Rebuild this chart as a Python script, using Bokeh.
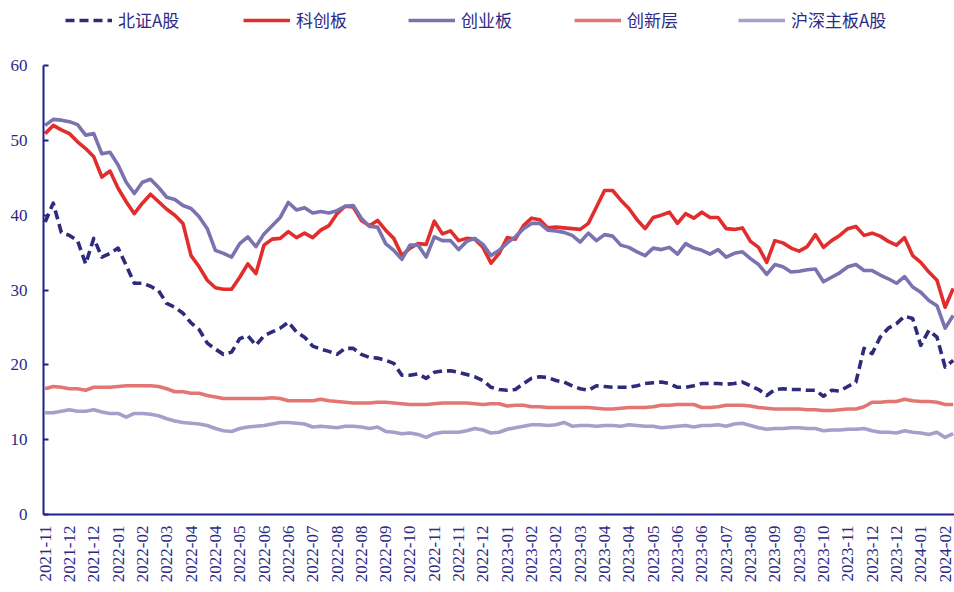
from bokeh.plotting import figure
from bokeh.models import ColumnDataSource, FixedTicker, Legend, LegendItem, Range1d
from bokeh.embed import file_html
from bokeh.resources import INLINE

# ---- data (weekly) ----
series_names = ["北证A股", "科创板", "创业板", "创新层", "沪深主板A股"]

bz = [39.1, 41.6, 37.7, 37.3, 36.6, 33.5, 36.9, 34.4, 34.9, 35.6, 33.3, 30.9, 30.9, 30.5, 29.9, 28.2, 27.7, 26.9, 25.6, 24.7,
      22.9, 22.1, 21.4, 21.7, 23.5, 23.9, 22.6, 23.9, 24.4, 24.9, 25.7, 24.4, 23.7, 22.5, 22.1, 21.8, 21.4, 22.2, 22.2, 21.4,
      21.0, 20.9, 20.6, 20.2, 18.6, 18.6, 18.8, 18.2, 19.0, 19.2, 19.2, 19.0, 18.7, 18.4, 17.9, 17.0, 16.7, 16.6, 16.7, 17.5,
      18.2, 18.4, 18.3, 17.9, 17.7, 17.2, 16.8, 16.6, 17.2, 17.1, 17.0, 17.0, 17.0, 17.2, 17.5, 17.6, 17.7, 17.5, 17.0, 17.0,
      17.2, 17.5, 17.5, 17.5, 17.4, 17.5, 17.7, 17.2, 16.7, 15.9, 16.7, 16.8, 16.7, 16.7, 16.6, 16.6, 15.8, 16.6, 16.5, 17.1,
      17.7, 22.2, 21.5, 23.7, 24.9, 25.5, 26.5, 26.2, 22.6, 24.6, 23.7, 19.7, 20.6]

kcb = [50.9, 52.0, 51.4, 50.9, 49.8, 48.9, 47.8, 45.1, 45.9, 43.6, 41.8, 40.2, 41.6, 42.8, 41.8, 40.8, 40.0, 38.9, 34.6, 33.1,
       31.3, 30.3, 30.1, 30.1, 31.7, 33.5, 32.2, 36.0, 36.8, 36.9, 37.8, 37.0, 37.6, 37.0, 38.0, 38.6, 40.2, 41.2, 41.1, 39.3,
       38.6, 39.3, 38.0, 36.9, 34.6, 35.6, 36.2, 36.1, 39.2, 37.5, 37.9, 36.6, 36.9, 36.8, 35.7, 33.6, 34.9, 37.0, 36.8, 38.6,
       39.6, 39.4, 38.3, 38.4, 38.3, 38.2, 38.1, 38.9, 41.1, 43.3, 43.3, 42.0, 40.9, 39.4, 38.2, 39.7, 40.0, 40.4, 38.9, 40.2,
       39.6, 40.4, 39.7, 39.7, 38.2, 38.1, 38.3, 36.5, 35.7, 33.7, 36.6, 36.3, 35.6, 35.2, 35.8, 37.4, 35.7, 36.6, 37.3, 38.2,
       38.5, 37.3, 37.6, 37.2, 36.5, 36.0, 37.0, 34.6, 33.7, 32.4, 31.3, 27.7, 30.2]

cyb = [52.0, 52.8, 52.7, 52.5, 52.1, 50.7, 50.9, 48.2, 48.4, 46.7, 44.4, 42.9, 44.4, 44.8, 43.7, 42.4, 42.1, 41.3, 40.9, 39.8,
       38.2, 35.3, 34.9, 34.4, 36.2, 37.1, 35.8, 37.5, 38.6, 39.7, 41.7, 40.7, 41.0, 40.3, 40.5, 40.3, 40.6, 41.2, 41.3, 39.6,
       38.5, 38.4, 36.2, 35.3, 34.1, 36.0, 36.0, 34.4, 37.1, 36.6, 36.6, 35.4, 36.5, 36.9, 36.1, 34.6, 35.3, 36.3, 37.1, 38.2,
       38.9, 38.9, 38.0, 37.9, 37.7, 37.3, 36.4, 37.6, 36.6, 37.4, 37.2, 36.0, 35.7, 35.1, 34.6, 35.6, 35.4, 35.7, 34.8, 36.2,
       35.6, 35.3, 34.8, 35.4, 34.4, 34.9, 35.1, 34.2, 33.4, 32.1, 33.4, 33.1, 32.4, 32.5, 32.7, 32.8, 31.1, 31.7, 32.3, 33.1,
       33.4, 32.6, 32.6, 32.0, 31.5, 30.9, 31.8, 30.4, 29.7, 28.6, 27.9, 24.9, 26.6]

cxc = [16.8, 17.1, 17.0, 16.8, 16.8, 16.6, 17.0, 17.0, 17.0, 17.1, 17.2, 17.2, 17.2, 17.2, 17.1, 16.8, 16.4, 16.4, 16.2, 16.2,
       15.9, 15.7, 15.5, 15.5, 15.5, 15.5, 15.5, 15.5, 15.6, 15.5, 15.2, 15.2, 15.2, 15.2, 15.4, 15.2, 15.1, 15.0, 14.9, 14.9,
       14.9, 15.0, 15.0, 14.9, 14.8, 14.7, 14.7, 14.7, 14.8, 14.9, 14.9, 14.9, 14.9, 14.8, 14.7, 14.8, 14.8, 14.5, 14.6, 14.6,
       14.4, 14.4, 14.3, 14.3, 14.3, 14.3, 14.3, 14.3, 14.2, 14.1, 14.1, 14.2, 14.3, 14.3, 14.3, 14.4, 14.6, 14.6, 14.7, 14.7,
       14.7, 14.3, 14.3, 14.4, 14.6, 14.6, 14.6, 14.5, 14.3, 14.2, 14.1, 14.1, 14.1, 14.1, 14.0, 14.0, 13.9, 13.9, 14.0, 14.1,
       14.1, 14.4, 15.0, 15.0, 15.1, 15.1, 15.4, 15.2, 15.1, 15.1, 15.0, 14.7, 14.7]

hs = [13.6, 13.6, 13.8, 14.0, 13.8, 13.8, 14.0, 13.7, 13.5, 13.5, 13.0, 13.5, 13.5, 13.4, 13.2, 12.8, 12.5, 12.3, 12.2, 12.1,
      11.9, 11.5, 11.2, 11.1, 11.5, 11.7, 11.8, 11.9, 12.1, 12.3, 12.3, 12.2, 12.1, 11.7, 11.8, 11.7, 11.6, 11.8, 11.8, 11.7,
      11.5, 11.7, 11.1, 11.0, 10.8, 10.9, 10.7, 10.3, 10.8, 11.0, 11.0, 11.0, 11.2, 11.5, 11.3, 10.9, 11.0, 11.4, 11.6, 11.8,
      12.0, 12.0, 11.9, 12.0, 12.3, 11.8, 11.9, 11.9, 11.8, 11.9, 11.9, 11.8, 12.0, 11.9, 11.8, 11.8, 11.6, 11.7, 11.8, 11.9,
      11.7, 11.9, 11.9, 12.0, 11.8, 12.1, 12.2, 11.9, 11.6, 11.4, 11.5, 11.5, 11.6, 11.6, 11.5, 11.5, 11.2, 11.3, 11.3, 11.4,
      11.4, 11.5, 11.2, 11.0, 11.0, 10.9, 11.2, 11.0, 10.9, 10.7, 11.0, 10.3, 10.8]

tick_labels = ["2021-11", "2021-12", "2021-12", "2022-01", "2022-02", "2022-03", "2022-04", "2022-04", "2022-05",
               "2022-06", "2022-06", "2022-07", "2022-08", "2022-08", "2022-09", "2022-10", "2022-11", "2022-11",
               "2022-12", "2023-01", "2023-02", "2023-02", "2023-03", "2023-04", "2023-04", "2023-05", "2023-06",
               "2023-06", "2023-07", "2023-08", "2023-09", "2023-09", "2023-10", "2023-11", "2023-12", "2023-12",
               "2024-01", "2024-02"]
tick_step = 3
y_ticks = [0, 10, 20, 30, 40, 50, 60]

# ---- styles ----
AXIS = "#22208A"
TXT = "#2B2A84"
colors = ["#2E2A7C", "#E12D2D", "#7A73AF", "#E37575", "#A59FC9"]
SERIF = "Liberation Serif"
legend_x = [22, 200, 365, 531, 695]   # px offsets of legend entries from frame left

n = len(kcb)
idx = list(range(n))
source = ColumnDataSource(dict(x=idx, bz=bz, kcb=kcb, cyb=cyb, cxc=cxc, hs=hs))

p = figure(width=954, height=592, output_backend="svg", toolbar_location=None,
           x_range=Range1d(-0.2, 112.16), y_range=Range1d(0, 68.69),
           min_border_left=43, min_border_right=0, min_border_top=0, min_border_bottom=78)
p.outline_line_color = None
p.background_fill_color = "white"
p.border_fill_color = "white"
p.xgrid.visible = False
p.ygrid.visible = False

renderers = []
keys = ["bz", "kcb", "cyb", "cxc", "hs"]
for i, k in enumerate(keys):
    kw = dict(line_width=3.6, line_color=colors[i], line_join="round")
    if k == "bz":
        kw["line_dash"] = "9 5"
    r = p.line("x", k, source=source, **kw)
    renderers.append(r)

# x axis
ticks = [i * tick_step for i in range(len(tick_labels))]
p.xaxis.ticker = FixedTicker(ticks=ticks)
p.xaxis.major_label_overrides = {t: lab for t, lab in zip(ticks, tick_labels)}
p.xaxis.major_label_orientation = 1.5708
p.xaxis.major_label_text_font = SERIF
p.xaxis.major_label_text_font_size = "17px"
p.xaxis.major_label_text_color = TXT
p.xaxis.major_tick_in = 0
p.xaxis.major_tick_out = 0
p.xaxis.minor_tick_line_color = None
p.xaxis.axis_line_color = AXIS
p.xaxis.axis_line_width = 2
p.xaxis.major_label_standoff = 11

# y axis
p.yaxis.ticker = FixedTicker(ticks=y_ticks)
p.yaxis.bounds = (0, 60)
p.yaxis.major_label_text_font = SERIF
p.yaxis.major_label_text_font_size = "17px"
p.yaxis.major_label_text_color = TXT
p.yaxis.major_tick_in = 5
p.yaxis.major_tick_out = 0
p.yaxis.major_tick_line_color = AXIS
p.yaxis.major_tick_line_width = 2
p.yaxis.minor_tick_line_color = None
p.yaxis.axis_line_color = AXIS
p.yaxis.axis_line_width = 2
p.yaxis.major_label_standoff = 16

for nm, r, lx in zip(series_names, renderers, legend_x):
    lg = Legend(items=[LegendItem(label=nm, renderers=[r])],
                orientation="horizontal", location=(lx, 482))
    lg.padding = 0
    lg.margin = 0
    lg.glyph_width = 47
    lg.glyph_height = 20
    lg.label_height = 20
    lg.label_standoff = 6
    lg.label_text_font = "Noto Sans CJK SC"
    lg.label_text_font_size = "17px"
    lg.label_text_color = TXT
    lg.border_line_color = None
    lg.background_fill_alpha = 0
    p.add_layout(lg, "center")

open("out.html", "w").write(file_html(p, INLINE))
